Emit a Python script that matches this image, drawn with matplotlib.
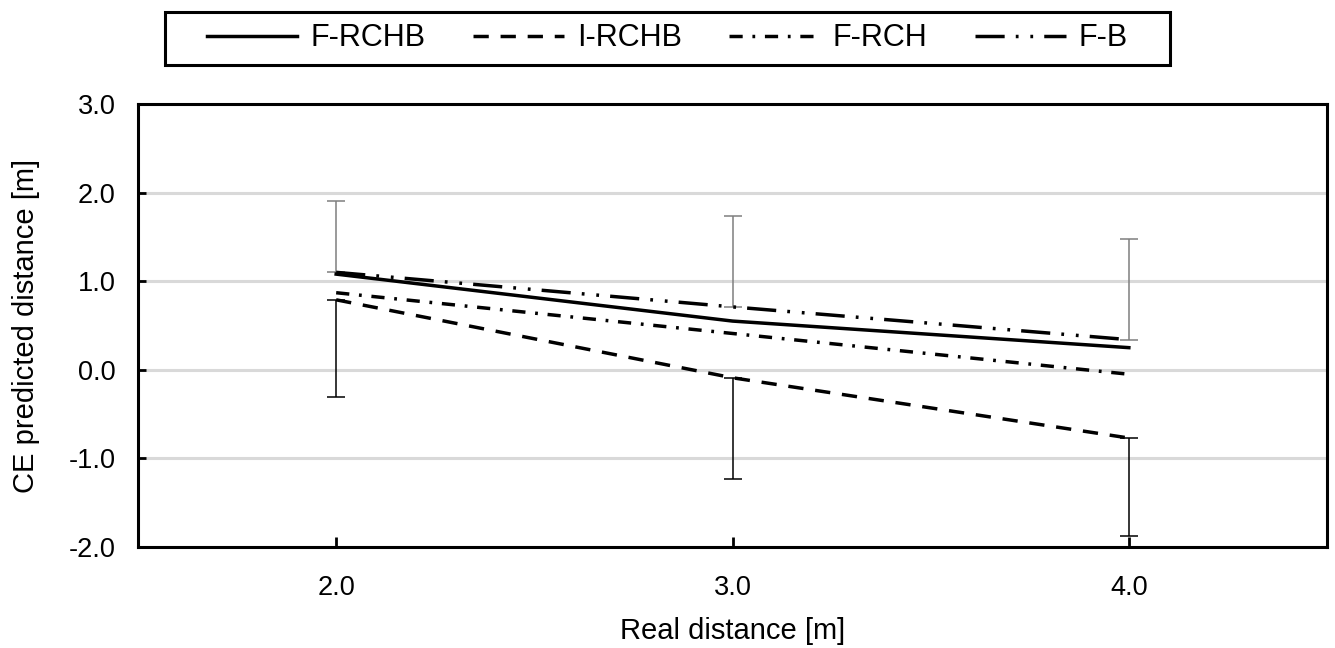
import matplotlib
matplotlib.use('Agg')
import matplotlib.pyplot as plt
from matplotlib.patches import Rectangle
import numpy as np

plt.rcParams['font.family'] = ['Liberation Sans', 'DejaVu Sans']
plt.rcParams['lines.scale_dashes'] = False

# Data
real_dist = [2.0, 3.0, 4.0]
f_rchb = [1.08, 0.55, 0.25]
i_rchb = [0.79, -0.09, -0.77]
f_rch = [0.87, 0.41, -0.05]
f_b = [1.10, 0.71, 0.34]

# one-sided error bars: I-RCHB below, F-B above
i_rchb_err = [1.10, 1.14, 1.11]
f_b_err = [0.80, 1.03, 1.14]

W, H = 1335, 648
fig = plt.figure(figsize=(W / 100, H / 100), dpi=100)
ax = fig.add_axes([138 / W, 1 - 547 / H, (1327 - 138) / W, (547 - 104) / H])

lw = 2.5
ax.plot(real_dist, f_rchb, color='black', lw=lw, label='F-RCHB', zorder=4)
ax.plot(real_dist, i_rchb, color='black', lw=lw, linestyle=(0, (11, 8.5)), label='I-RCHB', zorder=4)
ax.plot(real_dist, f_rch, color='black', lw=lw, linestyle=(0, (9.5, 7, 2, 7)), label='F-RCH', zorder=4)
ax.plot(real_dist, f_b, color='black', lw=lw, linestyle=(0, (21, 8, 2, 8.5, 2, 8)), label='F-B', zorder=4)

ax.errorbar(real_dist, i_rchb, yerr=[i_rchb_err, [0, 0, 0]], fmt='none',
            ecolor='black', elinewidth=1.1, capsize=6.5, capthick=1.1, zorder=3)
ax.errorbar(real_dist, f_b, yerr=[[0, 0, 0], f_b_err], fmt='none',
            ecolor='#7f7f7f', elinewidth=1.1, capsize=6.5, capthick=1.1, zorder=3)

ax.set_xlim(1.5, 4.5)
ax.set_ylim(-2.0, 3.0)
ax.set_xticks(real_dist)
ax.set_xticklabels([f'{v:.1f}' for v in real_dist])
yt = np.arange(-2.0, 3.01, 1.0)
ax.set_yticks(yt)
ax.set_yticklabels([f'{v:.1f}' for v in yt])

ax.yaxis.grid(True, color='#d9d9d9', lw=2.2)
ax.set_axisbelow(True)
for s in ax.spines.values():
    s.set_linewidth(2.2)
    s.set_color('black')

ax.tick_params(axis='x', direction='in', length=7, width=2, labelsize=19.5, pad=20)
ax.tick_params(axis='y', direction='in', length=6, width=2, labelsize=19.5, pad=16)

ax.set_xlabel('Real distance [m]', fontsize=21, labelpad=12)
ax.set_ylabel('CE predicted distance [m]', fontsize=21, labelpad=21)

leg = fig.legend(loc='center', bbox_to_anchor=(667.5 / W, 1 - 38.5 / H), ncol=4, fontsize=22,
                 frameon=False, handlelength=2.95, handletextpad=0.43,
                 columnspacing=1.57, borderpad=0.2)

# legend box drawn separately (wider horizontal padding than vertical)
fig.patches.append(Rectangle((165 / W, 1 - 65 / H), (1170 - 165) / W, (65 - 12) / H,
                             transform=fig.transFigure, fill=False,
                             edgecolor='black', lw=2.2))

fig.savefig('out.png', dpi=100)
